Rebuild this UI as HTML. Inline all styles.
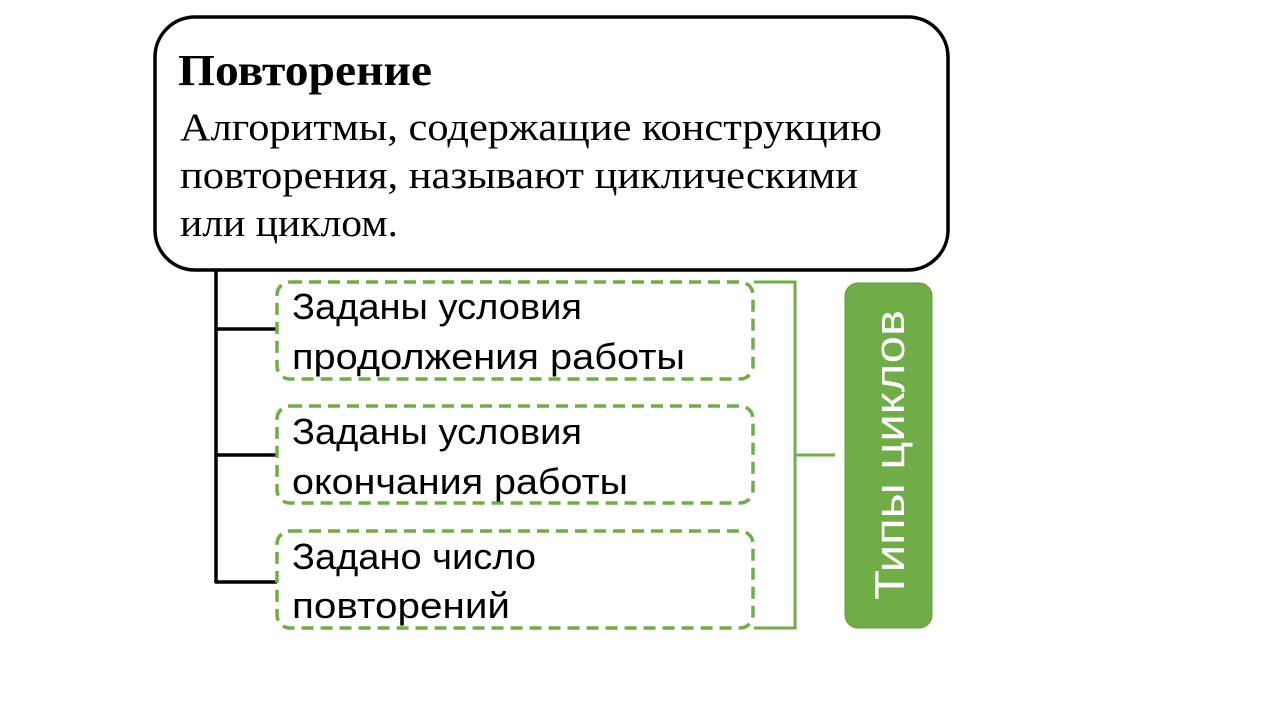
<!DOCTYPE html>
<html><head><meta charset="utf-8"><style>
html,body{margin:0;padding:0;background:#fff;}
svg{display:block;}
.s{font-family:"Liberation Serif",serif;}
.n{font-family:"Liberation Sans",sans-serif;}
</style></head><body>
<svg width="1280" height="720" viewBox="0 0 1280 720" xmlns="http://www.w3.org/2000/svg">
<rect x="0" y="0" width="1280" height="720" fill="#fff"/>
<rect x="155" y="17" width="793" height="253" rx="40" ry="40" fill="#fff" stroke="#000" stroke-width="3.5"/>
<text class="s" x="178" y="85" font-size="44" font-weight="bold" textLength="254" lengthAdjust="spacingAndGlyphs">Повторение</text>
<text class="s" x="180" y="140" font-size="39" textLength="702" lengthAdjust="spacingAndGlyphs">Алгоритмы, содержащие конструкцию</text>
<text class="s" x="180" y="188" font-size="39" textLength="678" lengthAdjust="spacingAndGlyphs">повторения, называют циклическими</text>
<text class="s" x="180" y="236" font-size="39" textLength="218" lengthAdjust="spacingAndGlyphs">или циклом.</text>
<g stroke="#000" stroke-width="3.5" fill="none">
<line x1="216" y1="270" x2="216" y2="583"/>
<line x1="215" y1="329" x2="277" y2="329"/>
<line x1="215" y1="455" x2="277" y2="455"/>
<line x1="215" y1="582" x2="277" y2="582"/>
</g>
<g stroke="#70AD47" stroke-width="3.5" fill="none" stroke-dasharray="12 7">
<rect x="277" y="282" width="476" height="97" rx="13"/>
<rect x="277" y="406" width="476" height="97" rx="13"/>
<rect x="277" y="531" width="476" height="97" rx="13"/>
</g>
<g class="n" font-size="36" fill="#000">
<text x="292" y="319" textLength="290" lengthAdjust="spacingAndGlyphs">Заданы условия</text>
<text x="292" y="369" textLength="393" lengthAdjust="spacingAndGlyphs">продолжения работы</text>
<text x="292" y="444" textLength="290" lengthAdjust="spacingAndGlyphs">Заданы условия</text>
<text x="292" y="494" textLength="336" lengthAdjust="spacingAndGlyphs">окончания работы</text>
<text x="292" y="569" textLength="244" lengthAdjust="spacingAndGlyphs">Задано число</text>
<text x="292" y="618" textLength="218" lengthAdjust="spacingAndGlyphs">повторений</text>
</g>
<g stroke="#70AD47" stroke-width="3" fill="none">
<polyline points="754,282 795,282 795,628 754,628"/>
<line x1="795" y1="455" x2="835" y2="455"/>
</g>
<rect x="845" y="283" width="87" height="345" rx="13" fill="#70AD47" stroke="#5f9a3b" stroke-width="1"/>
<text class="n" x="0" y="0" font-size="42" fill="#fff" text-anchor="middle" transform="translate(904,455) rotate(-90)" textLength="290" lengthAdjust="spacingAndGlyphs">Типы циклов</text>
</svg>
</body></html>
